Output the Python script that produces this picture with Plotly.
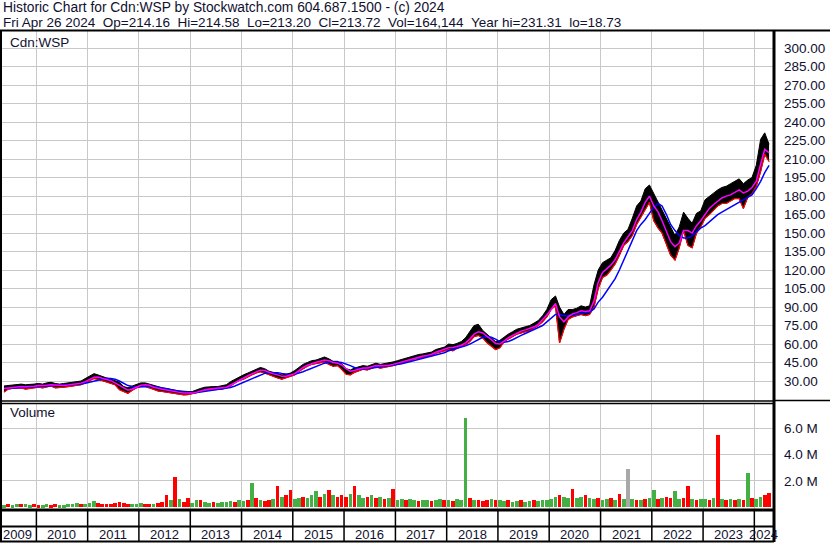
import pandas as pd
import plotly.graph_objects as go

W, H = 830, 543

# ---------------- data (monthly, May 2009 .. Apr 2024) ----------------
months = pd.date_range("2009-05-01", "2024-04-01", freq="MS") + pd.Timedelta(days=14)

close = [
    24, 25, 25.5, 25.5, 26, 25, 25.5, 26,                                  # 2009
    26.5, 26, 27, 27.5, 26, 26, 26.5, 27, 27.5, 28, 28.5, 30.5,            # 2010
    32, 34.5, 32.5, 31.5, 30.5, 29, 27, 25, 23, 21.5, 24.5, 26.5,          # 2011
    27, 27, 26, 24.5, 23.5, 23, 22.5, 21.5, 21, 20.5, 20, 20,              # 2012
    20.5, 21.5, 23, 23.5, 24, 24, 24, 24.5, 25.5, 28, 30, 32,              # 2013
    33.5, 35, 36.5, 38, 39.5, 38, 36.5, 35.5, 34.5, 33, 34, 35,            # 2014
    37, 40, 42, 43.5, 45, 45.5, 46.5, 47.5, 46, 44, 44.5, 42,              # 2015
    38, 37, 39, 40, 41, 40.5, 42, 43, 42, 42.5, 43, 44,                    # 2016
    45, 46, 47, 48, 49.5, 50, 50.5, 51, 52, 54, 55, 56,                    # 2017
    58, 57, 58.5, 60, 62, 66, 70, 71, 68, 65, 62, 59,                      # 2018
    61, 64, 66, 68, 70, 71, 72, 73, 75, 77, 81, 85,                        # 2019
    92, 95, 72, 80, 84, 85, 86, 88, 86, 88, 100, 115,                      # 2020
    120, 122, 125, 130, 138, 145, 148, 155, 165, 170, 178, 182,            # 2021
    168, 164, 158, 150, 140, 136, 148, 160, 150, 148, 158, 162,            # 2022
    170, 172, 175, 178, 180, 180, 182, 184, 186, 180, 186, 188,            # 2023
    200, 218, 224, 214,                                                    # 2024
]
high = [
    26, 26.5, 27, 27, 27.5, 27, 27, 27.5,
    28, 27.5, 28.5, 29, 28, 27.5, 28, 28.5, 29, 29.5, 30, 32,
    34, 36, 35, 33.5, 32.5, 31.5, 30.5, 29, 25.5, 24.5, 26, 27.5,
    28.5, 28.5, 27.5, 26, 25, 24.5, 24, 23, 22.5, 22, 21.5, 21.5,
    21.5, 23, 24, 25, 25.5, 25.5, 25.5, 26, 27, 29.5, 31.5, 33.5,
    35, 36.5, 38, 39.5, 41, 40, 38, 37, 36, 35, 35.5, 36.5,
    38.5, 41.5, 43.5, 45, 46.5, 47, 48, 49.5, 48, 46, 46, 44,
    40, 39, 40.5, 41.5, 42.5, 42, 43.5, 44.5, 43.5, 44, 44.5, 45.5,
    46.5, 47.5, 48.5, 49.5, 51, 51.5, 52, 52.5, 53.5, 55.5, 56.5, 57.5,
    60, 59.5, 60.5, 62, 65, 70, 75, 76, 71, 68, 65, 62,
    63, 66, 68, 70, 72, 73, 74, 75, 77, 79, 83, 88,
    96, 99, 90, 84, 88, 88, 89, 91, 90, 91, 108, 120,
    126, 128, 130, 136, 144, 150, 153, 162, 172, 176, 186, 189,
    182, 175, 170, 163, 155, 148, 155, 167, 162, 158, 166, 168,
    177, 180, 182, 185, 187, 188, 190, 192, 194, 190, 193, 195,
    205, 226, 231.3, 222,
]
low = [
    21, 23.5, 24, 24, 24.5, 23.5, 24, 24.5,
    25, 24.5, 25.5, 26, 24.5, 24.5, 25, 25.5, 26, 26.5, 27, 28.5,
    30, 32, 31.5, 30.5, 29.5, 28.5, 27, 23, 21.5, 20, 22.5, 24.5,
    25.5, 25.5, 24.5, 23, 22, 21.5, 21, 20, 19.5, 19, 18.8, 19,
    19.5, 20.5, 21.5, 22.5, 23, 23, 23, 23.5, 24.5, 26, 28.5, 30.5,
    31.5, 33.5, 35, 36.5, 37.5, 36.5, 35, 34, 32.5, 31.5, 32.5, 33.5,
    35, 38, 40, 42, 43.5, 44, 45, 45.5, 43.5, 42, 42.5, 39.5,
    35.5, 35, 37, 38.5, 39.5, 39, 40.5, 41.5, 40.5, 41, 41.5, 42.5,
    43.5, 44.5, 45.5, 46.5, 48, 48.5, 49, 49.5, 50.5, 52.5, 53.5, 54.5,
    55.5, 54.5, 56.5, 58, 59.5, 62, 66, 67, 65, 61, 58, 55.5,
    57, 62, 64, 66, 68, 69, 70, 71, 73, 75, 78, 82,
    88, 91, 61, 72, 80, 82, 83, 84, 83, 84, 90, 105,
    114, 116, 120, 125, 132, 140, 143, 148, 157, 163, 170, 175,
    160, 154, 150, 140, 132, 128, 138, 152, 140, 138, 150, 155,
    162, 165, 168, 172, 174, 174, 176, 178, 178, 170, 179, 182,
    188, 200, 214, 208,
]
ma_short = [
    24, 24.5, 25, 25.3, 25.6, 25.4, 25.4, 25.7,
    26.3, 26.2, 26.6, 27, 26.6, 26.2, 26.4, 26.8, 27.3, 27.8, 28.3, 29.5,
    31, 33, 33.2, 32.3, 31.3, 30.3, 28.5, 26.5, 24, 22.5, 23.5, 25.3,
    26.5, 27, 26.5, 25, 24, 23.3, 22.8, 22, 21.3, 20.8, 20.3, 20.1,
    20.2, 21, 22.2, 23, 23.6, 24, 24, 24.3, 25, 26.8, 28.8, 31,
    32.8, 34.3, 35.8, 37.3, 38.8, 38.5, 37, 35.8, 35, 33.8, 33.8, 34.6,
    36, 38.7, 41, 42.8, 44.3, 45.2, 46, 47, 46.5, 45, 44.5, 43,
    40, 38, 38.5, 39.5, 40.5, 40.6, 41.3, 42.5, 42.3, 42.3, 42.8, 43.5,
    44.5, 45.5, 46.5, 47.5, 48.8, 49.6, 50.3, 50.8, 51.7, 53.3, 54.6, 55.6,
    57, 57.2, 57.8, 59, 61, 64, 68, 70, 69, 66.5, 63.5, 60.5,
    60, 62.5, 65, 67, 69, 70.5, 71.5, 72.5, 74, 76, 79.5, 83.5,
    88, 93, 82, 78, 82, 84.5, 85.5, 87, 86.5, 87, 95, 110,
    118, 121, 124, 128.5, 135, 142, 147, 152, 161, 167, 175, 180,
    172, 167, 160, 152, 143, 139, 142, 152, 152, 150, 156, 160,
    165, 170, 173, 176, 178.5, 180, 181, 183, 185, 182.5, 184, 187,
    192, 206, 218, 215,
]
ma_long = [
    24, 24.2, 24.5, 24.8, 25, 25.2, 25.3, 25.5,
    25.8, 26, 26.2, 26.4, 26.5, 26.5, 26.5, 26.6, 26.8, 27.1, 27.5, 28.2,
    29, 30, 31, 31.8, 32.2, 32, 31.5, 30, 28, 26.3, 25.5, 25.2,
    25.3, 25.6, 25.8, 25.6, 25, 24.3, 23.6, 23, 22.4, 21.8, 21.2, 20.8,
    20.6, 20.6, 21, 21.5, 22, 22.6, 23.1, 23.5, 24, 24.8, 26, 27.5,
    29, 30.5, 32, 33.5, 35, 36.2, 36.8, 37, 36.8, 36.2, 35.5, 35.2,
    35.5, 36.3, 37.5, 39, 40.5, 42, 43.3, 44.5, 45.3, 45.5, 45.5, 45,
    44, 42.5, 41, 40, 39.8, 40, 40.5, 41, 41.5, 41.8, 42.2, 42.7,
    43.3, 44, 44.8, 45.7, 46.5, 47.3, 48.2, 49, 49.8, 50.8, 51.8, 53,
    54.5, 55.5, 56.5, 57.5, 58.5, 60, 62, 64, 65.5, 66, 65.5, 64,
    62, 61.5, 62, 63.5, 65.5, 67, 68.5, 70, 71.5, 73, 75, 78,
    81, 84, 84, 83, 83, 83.5, 84, 84.5, 85, 86, 88.5, 94,
    98, 103, 108, 113, 120, 128, 137, 145, 152, 157, 161, 166,
    171, 174, 172, 165, 157, 152, 148, 146, 146, 148, 151, 154,
    156, 159, 162, 165, 167, 169, 171, 173, 175, 177, 179, 181,
    186, 192, 199, 205,
]
volume_m = [
    0.15, 0.2, 0.15, 0.2, 0.25, 0.2, 0.15, 0.2,
    0.15, 0.15, 0.2, 0.15, 0.2, 0.15, 0.15, 0.2, 0.25, 0.3, 0.2, 0.25,
    0.3, 0.45, 0.3, 0.25, 0.2, 0.25, 0.3, 0.35, 0.3, 0.25, 0.2, 0.2,
    0.3, 0.25, 0.2, 0.25, 0.3, 0.35, 0.9, 0.5, 2.3, 0.6, 0.4, 0.7,
    0.3, 0.5, 0.55, 0.4, 0.3, 0.35, 0.3, 0.35, 0.4, 0.45, 0.4, 0.5,
    0.45, 0.5, 1.8, 0.7, 0.5, 0.45, 0.5, 0.6, 1.6, 0.8, 0.9, 1.3,
    0.6, 0.7, 0.8, 0.7, 0.9, 1.2, 0.8, 1.0, 1.3, 0.9, 0.8, 0.9,
    0.8, 1.0, 1.6, 0.9, 0.7, 0.8, 0.9, 0.7, 0.8, 0.6, 0.7, 1.35,
    0.5, 0.6, 0.5, 0.6, 0.5, 0.45, 0.55, 0.5, 0.45, 0.5, 0.6, 0.5,
    0.5, 0.45, 0.6, 0.5, 6.8, 0.7, 0.5, 0.55, 0.45, 0.5, 0.6, 0.5,
    0.5, 0.45, 0.5, 0.4, 0.45, 0.5, 0.4, 0.45, 0.5, 0.45, 0.5, 0.55,
    0.6, 0.8, 0.9, 0.8, 0.7, 1.4, 0.7, 0.8, 0.9, 0.7, 0.6, 0.7,
    0.5, 0.6, 0.7, 0.5, 1.0, 0.6, 2.9, 0.6, 0.5, 0.55, 0.6, 0.7,
    1.3, 0.6, 0.7, 0.8, 0.7, 1.2, 0.6, 0.7, 1.6, 0.6, 0.5, 0.6,
    0.6, 0.5, 0.7, 5.5, 0.6, 0.5, 0.6, 0.5, 0.6, 0.5, 2.6, 0.7,
    0.6, 0.8, 0.9, 1.1,
]
# u = up (green), d = down (red), n = unchanged (grey), one letter per month
vol_trend = "".join([
    "uduuduud",        # 2009
    "duudduuuuudu",    # 2010
    "uudddddddduu",    # 2011
    "uddudddududd",    # 2012
    "uuduuduuuudu",    # 2013
    "udududdududd",    # 2014
    "uuduuudududd",    # 2015
    "duduudududud",    # 2016
    "uuduuduuduud",    # 2017
    "uduuududddud",    # 2018
    "uuduuduuduuu",    # 2019
    "uuduuduuduud",    # 2020
    "uududunududu",    # 2021
    "ududduuddudu",    # 2022
    "udududududud",    # 2023
    "uudd",            # 2024
])

price_ticks = list(range(30, 301, 15))
vol_ticks = [2, 4, 6]
vol_ticktext = ["2.0 M", "4.0 M", "6.0 M"]
years = list(range(2009, 2025))
header1 = "Historic Chart for Cdn:WSP by Stockwatch.com 604.687.1500 - (c) 2024"
header2 = ["Fri Apr 26 2024", "Op=214.16", "Hi=214.58", "Lo=213.20", "Cl=213.72",
           "Vol=164,144", "Year hi=231.31", "lo=18.73"]

# ---------------- styling helpers ----------------
FONT = "Liberation Sans, Arial, sans-serif"
TXT = "#101030"
GRID = "#C8C8C8"


def px_x(p):
    return p / W


def px_y(p):
    return 1 - p / H


x_start, x_end = "2009-05-01", "2024-05-13"

colors = {"u": "#44B044", "d": "#FF0000", "n": "#A8A8A8"}
bar_colors = [colors[c] for c in vol_trend]

fig = go.Figure()

# price band (high/low)
fig.add_trace(go.Scatter(x=months, y=high, mode="lines", line=dict(color="black", width=1),
                         xaxis="x", yaxis="y", hoverinfo="skip", showlegend=False))
fig.add_trace(go.Scatter(x=months, y=low, mode="lines", line=dict(color="black", width=1),
                         fill="tonexty", fillcolor="black",
                         xaxis="x", yaxis="y", hoverinfo="skip", showlegend=False))
fig.add_trace(go.Scatter(x=months, y=low, mode="lines", line=dict(color="#FF0000", width=1.2),
                         xaxis="x", yaxis="y", showlegend=False))
fig.add_trace(go.Scatter(x=months, y=ma_long, mode="lines", line=dict(color="#0000FF", width=1.5),
                         xaxis="x", yaxis="y", showlegend=False))
fig.add_trace(go.Scatter(x=months, y=ma_short, mode="lines", line=dict(color="#FF00FF", width=1.5),
                         xaxis="x", yaxis="y", showlegend=False))

# volume
fig.add_trace(go.Bar(x=months, y=volume_m, marker=dict(color=bar_colors, line=dict(width=0)),
                     width=26 * 86400000, xaxis="x2", yaxis="y2", showlegend=False))

year_grid = [f"{y}-01-01" for y in range(2010, 2025)]

xcommon = dict(type="date", range=[x_start, x_end], domain=[px_x(2), px_x(773)],
               tickvals=year_grid, showticklabels=False, ticks="",
               showgrid=True, gridcolor=GRID, gridwidth=1, zeroline=False, showline=False,
               fixedrange=True)

fig.update_layout(
    width=W, height=H,
    margin=dict(l=0, r=0, t=0, b=0),
    paper_bgcolor="white", plot_bgcolor="white",
    showlegend=False,
    bargap=0,
    xaxis=dict(**xcommon, anchor="y"),
    xaxis2=dict(**xcommon, anchor="y2"),
    yaxis=dict(domain=[px_y(401), px_y(31)], range=[13.8, 313.9], side="right", anchor="x",
               tickvals=price_ticks, tickformat=".2f", ticks="", ticklabelstandoff=10,
               tickfont=dict(family=FONT, size=13.5, color=TXT),
               showgrid=True, gridcolor=GRID, zeroline=False, showline=False, fixedrange=True),
    yaxis2=dict(domain=[px_y(509), px_y(403)], range=[-0.15, 7.94], side="right", anchor="x2",
                tickvals=vol_ticks, ticktext=vol_ticktext, ticks="", ticklabelstandoff=10,
                tickfont=dict(family=FONT, size=13.5, color=TXT),
                showgrid=True, gridcolor=GRID, zeroline=False, showline=False, fixedrange=True),
)

shapes = []


def hline(y, x0, x1, w):
    shapes.append(dict(type="line", xref="paper", yref="paper", x0=px_x(x0), x1=px_x(x1),
                       y0=px_y(y), y1=px_y(y), line=dict(color="black", width=w)))


def vline(x, y0, y1, w):
    shapes.append(dict(type="line", xref="paper", yref="paper", x0=px_x(x), x1=px_x(x),
                       y0=px_y(y0), y1=px_y(y1), line=dict(color="black", width=w)))


hline(30.5, 0, 830, 2)
vline(1, 30, 542, 2)
vline(774, 30, 542, 3)
hline(401, 0, 774, 1.5)
hline(403.5, 0, 774, 1.5)
hline(400.5, 774, 830, 1.5)
hline(510, 0, 774, 3)
hline(526.5, 0, 774, 2)
hline(541.5, 0, 774, 2)
for d in year_grid:
    shapes.append(dict(type="line", xref="x2", yref="paper", x0=d, x1=d,
                       y0=px_y(541), y1=px_y(510), line=dict(color="black", width=1.5)))
fig.update_layout(shapes=shapes)

ann = []


def text(x, y, s, xref="paper", anchor="left", size=13.5):
    ann.append(dict(x=x, y=y, xref=xref, yref="paper", text=s, showarrow=False,
                    xanchor=anchor, yanchor="middle",
                    font=dict(family=FONT, size=size, color=TXT)))


text(px_x(1), px_y(8), header1, size=13.8)
text(px_x(1), px_y(22), "&#160;&#160;".join(header2), size=13.5)
text(px_x(8), px_y(42), "Cdn:WSP")
text(px_x(8), px_y(413), "Volume")

# year labels, centred in the visible part of each year
lo_d, hi_d = pd.Timestamp("2009-04-01"), pd.Timestamp(x_end)
for y in years:
    a = max(pd.Timestamp(f"{y}-01-01"), lo_d)
    b = min(pd.Timestamp(f"{y + 1}-01-01"), hi_d)
    mid = a + (b - a) / 2
    text(mid.strftime("%Y-%m-%d"), px_y(534), str(y), xref="x2", anchor="center", size=13)

fig.update_layout(annotations=ann)

fig.write_html("out.html", config={"displayModeBar": False},
               post_script="document.body.style.margin='0';document.body.style.padding='0';")
